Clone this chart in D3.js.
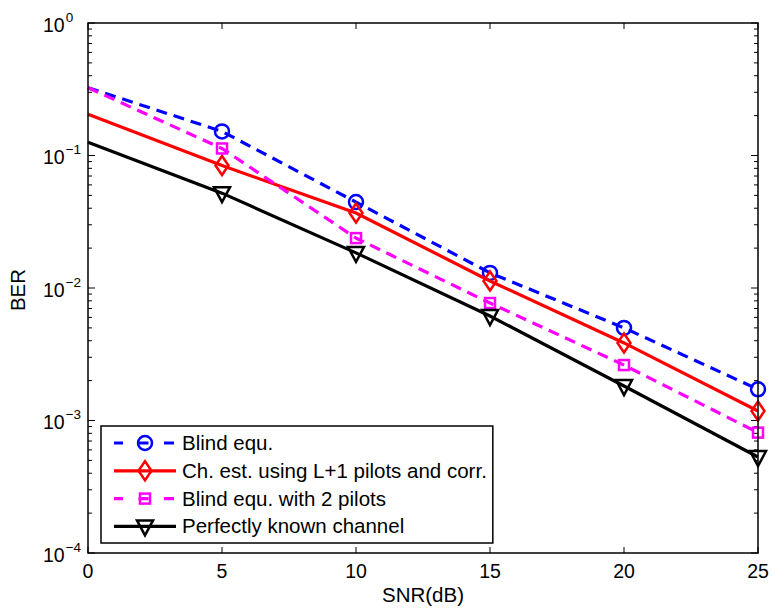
<!DOCTYPE html>
<html>
<head>
<meta charset="utf-8">
<script src="https://cdn.jsdelivr.net/npm/d3@7"></script>
<style>
  body { margin: 0; background: #fff; }
  text { font-family: "Liberation Sans", Arial, sans-serif; fill: #000; }
</style>
</head>
<body>
<main></main>
<script>
// data
const snr = [0, 5, 10, 15, 20, 25];
const blindEqu = [0.325, 0.152, 0.0445, 0.0130, 0.0050, 0.00172];
const chEst = [0.205, 0.084, 0.0368, 0.0113, 0.00385, 0.00118];
const blindPilots = [0.325, 0.113, 0.0238, 0.0077, 0.00262, 0.00081];
const perfect = [0.126, 0.052, 0.0184, 0.00615, 0.00182, 0.00053];
const xTicks = [0, 5, 10, 15, 20, 25];
const yExps = [0, -1, -2, -3, -4];

const series = [
  {name: "Blind equ.", values: blindEqu, color: "#0000ff", dash: "11,7", marker: "circle"},
  {name: "Ch. est. using L+1 pilots and corr.", values: chEst, color: "#ff0000", dash: null, marker: "diamond"},
  {name: "Blind equ. with 2 pilots", values: blindPilots, color: "#ff00ff", dash: "11,7", marker: "square"},
  {name: "Perfectly known channel", values: perfect, color: "#000000", dash: null, marker: "triangle"}
];

const width = 775, height = 611;
const pLeft = 88, pRight = 758, pTop = 23, pBottom = 553;

const svg = d3.select("main").append("svg")
  .attr("width", width)
  .attr("height", height);

const x = d3.scaleLinear().domain([0, 25]).range([pLeft, pRight]);
const y = d3.scaleLog().domain([1e-4, 1]).range([pBottom, pTop]);

// minor ticks for the log axis
const minor = [];
yExps.slice(0, 4).forEach(e => {
  for (let m = 2; m <= 9; m++) minor.push(m * Math.pow(10, e - 1));
});

const axes = svg.append("g").attr("stroke", "#000").attr("stroke-width", 1);

// x ticks top and bottom
xTicks.forEach(t => {
  axes.append("line").attr("x1", x(t)).attr("x2", x(t)).attr("y1", pBottom).attr("y2", pBottom - 6);
  axes.append("line").attr("x1", x(t)).attr("x2", x(t)).attr("y1", pTop).attr("y2", pTop + 6);
});
// y major and minor ticks left and right
yExps.forEach(e => {
  const v = Math.pow(10, e);
  axes.append("line").attr("x1", pLeft).attr("x2", pLeft + 7).attr("y1", y(v)).attr("y2", y(v));
  axes.append("line").attr("x1", pRight).attr("x2", pRight - 7).attr("y1", y(v)).attr("y2", y(v));
});
minor.forEach(v => {
  axes.append("line").attr("x1", pLeft).attr("x2", pLeft + 4).attr("y1", y(v)).attr("y2", y(v));
  axes.append("line").attr("x1", pRight).attr("x2", pRight - 4).attr("y1", y(v)).attr("y2", y(v));
});

// x tick labels
svg.append("g").selectAll("text")
  .data(xTicks)
  .enter()
  .append("text")
  .attr("x", d => x(d))
  .attr("y", 578)
  .attr("text-anchor", "middle")
  .style("font-size", "19.5px")
  .text(d => d);

// y tick labels 10^e
yExps.forEach(e => {
  const t = svg.append("text")
    .attr("x", 43)
    .attr("y", y(Math.pow(10, e)) + 8.5)
    .style("font-size", "19.5px");
  t.append("tspan").text("10");
  t.append("tspan")
    .attr("dx", 1)
    .attr("dy", -10)
    .style("font-size", "13.5px")
    .text(e === 0 ? "0" : "\u2212" + (-e));
});

svg.append("text")
  .attr("x", (pLeft + pRight) / 2)
  .attr("y", 602)
  .attr("text-anchor", "middle")
  .style("font-size", "20.5px")
  .text("SNR(dB)");

svg.append("text")
  .attr("transform", "translate(25,290) rotate(-90)")
  .attr("text-anchor", "middle")
  .style("font-size", "20.5px")
  .text("BER");

// markers
function drawMarker(g, type, cx, cy, color) {
  if (type === "circle") {
    g.append("circle").attr("cx", cx).attr("cy", cy).attr("r", 7)
      .attr("fill", "none").attr("stroke", color).attr("stroke-width", 2.5);
  } else if (type === "diamond") {
    g.append("path").attr("d", `M${cx},${cy - 9.5}L${cx + 6.5},${cy}L${cx},${cy + 9.5}L${cx - 6.5},${cy}Z`)
      .attr("fill", "none").attr("stroke", color).attr("stroke-width", 2.5);
  } else if (type === "square") {
    g.append("rect").attr("x", cx - 5).attr("y", cy - 5).attr("width", 10).attr("height", 10)
      .attr("fill", "none").attr("stroke", color).attr("stroke-width", 2.5);
  } else {
    g.append("path").attr("d", `M${cx - 8},${cy - 6}L${cx + 8},${cy - 6}L${cx},${cy + 9}Z`)
      .attr("fill", "none").attr("stroke", color).attr("stroke-width", 2.5);
  }
}

const line = d3.line()
  .x((d, i) => x(snr[i]))
  .y(d => y(d));

const plot = svg.append("g");
series.forEach(s => {
  plot.append("path")
    .attr("d", line(s.values))
    .attr("fill", "none")
    .attr("stroke", s.color)
    .attr("stroke-width", 3.2)
    .attr("stroke-dasharray", s.dash);
  s.values.forEach((v, i) => {
    if (i > 0) drawMarker(plot, s.marker, x(snr[i]), y(v), s.color);
  });
});

// axes box on top
svg.append("rect")
  .attr("x", pLeft).attr("y", pTop)
  .attr("width", pRight - pLeft).attr("height", pBottom - pTop)
  .attr("fill", "none").attr("stroke", "#000").attr("stroke-width", 1.5);

// legend
const legend = svg.append("g").attr("id", "legend");
const box = legend.append("rect")
  .attr("x", 101).attr("y", 426)
  .attr("height", 117)
  .attr("fill", "#fff").attr("stroke", "#000").attr("stroke-width", 1.5);

let maxEnd = 0;
series.forEach((s, i) => {
  const ly = 443 + i * 27.8;
  legend.append("line")
    .attr("x1", 114).attr("x2", 176).attr("y1", ly).attr("y2", ly)
    .attr("stroke", s.color).attr("stroke-width", 3.2)
    .attr("stroke-dasharray", s.dash ? "10,15.5" : null)
    .attr("stroke-dashoffset", s.dash ? 1 : null);
  drawMarker(legend, s.marker, 145, ly, s.color);
  const t = legend.append("text")
    .attr("x", 182).attr("y", ly + 7)
    .style("font-size", "20.5px")
    .text(s.name);
  maxEnd = Math.max(maxEnd, 182 + t.node().getComputedTextLength());
});
box.attr("width", maxEnd + 6 - 101);
</script>
</body>
</html>
